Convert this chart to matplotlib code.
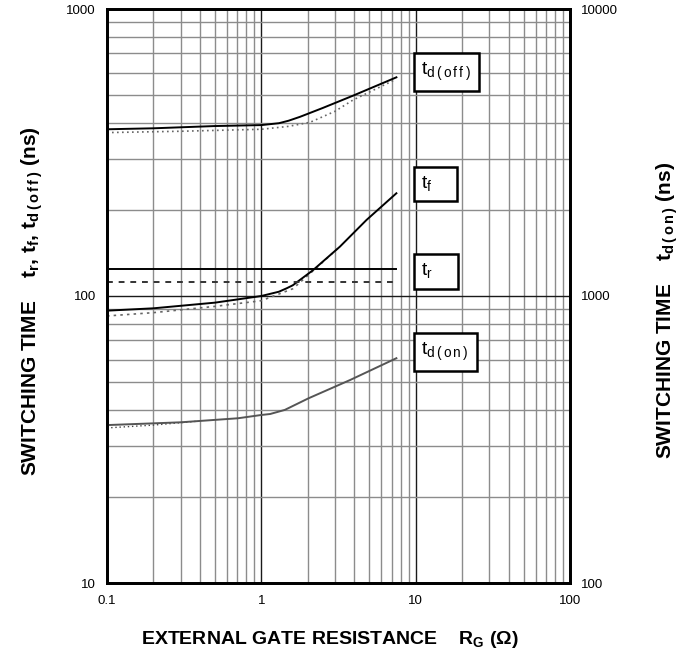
import matplotlib
matplotlib.use("Agg")
import matplotlib.pyplot as plt
from matplotlib.ticker import LogLocator, FixedLocator, NullFormatter

plt.rcParams['font.family'] = ['Liberation Sans', 'DejaVu Sans']
plt.rcParams['mathtext.fontset'] = 'custom'
plt.rcParams['mathtext.rm'] = 'Liberation Sans'

# gate resistance (ohm) / switching times (ns)
rg_doff = [0.1, 0.2, 0.5, 1.0, 1.3, 1.5, 1.78, 2.5, 3.93, 7.5]
td_off = [381, 384, 391, 394, 400, 408, 421, 452, 499, 578]
rg_doff_dot = [0.1, 0.3, 1.0, 1.5, 2.07, 3.0, 3.93, 7.3]
td_off_dot = [371, 375, 381, 390, 403, 440, 482, 566]

rg_f = [0.1, 0.2, 0.5, 1.0, 1.3, 1.46, 1.6, 2.16, 3.23, 4.8, 7.5]
tf = [88.9, 90.6, 94.8, 100, 103.5, 106.4, 109, 123, 148.6, 184, 228]
rg_f_dot = [0.1, 0.2, 0.5, 1.0, 1.6, 2.3, 3.2]
tf_dot = [85.2, 87.5, 92, 96.3, 106, 126, 148]

rg_r = [0.1, 7.5]
tr = [124, 124]
rg_r_dash = [0.1, 7.1]
tr_dash = [112.2, 112.2]

# t_d(on) is read on the right-hand axis
rg_don = [0.1, 0.2, 0.3, 0.707, 1.0, 1.14, 1.42, 2.02, 3.77, 7.5]
td_on = [355, 360, 363, 375, 385, 388, 401, 440, 510, 607]
rg_don_dot = [0.1, 0.2, 0.38]
td_on_dot = [347, 355, 366]

x_ticks = [0.1, 1, 10, 100]
x_ticklabels = ["0.1", "1", "10", "100"]
yl_ticks = [10, 100, 1000]
yl_ticklabels = ["10", "100", "1000"]
yr_ticks = [100, 1000, 10000]
yr_ticklabels = ["100", "1000", "10000"]

# label boxes: (text, x, y in left-axis units)
box_labels = [
    (r"t$_{\mathregular{d\,(\,o\,f\,f\,)}}$", 10.9, 603),
    (r"t$_{\mathregular{f}}$    ", 10.9, 245.7),
    (r"t$_{\mathregular{r}}$    ", 10.9, 122.1),
    (r"t$_{\mathregular{d\,(\,o\,n\,)}}$", 10.9, 64.0),
]

fig = plt.figure(figsize=(6.96, 6.57), dpi=100)
ax = fig.add_axes([107 / 696, 1 - 583 / 657, 463 / 696, 574 / 657])
ax.set_xscale('log')
ax.set_yscale('log')
ax.set_xlim(0.1, 100)
ax.set_ylim(10, 1000)

ax2 = ax.twinx()
ax2.set_yscale('log')
ax2.set_ylim(100, 10000)

# grid
ax.xaxis.set_minor_locator(LogLocator(base=10, subs=range(2, 10)))
ax.yaxis.set_minor_locator(LogLocator(base=10, subs=range(2, 10)))
ax.xaxis.set_minor_formatter(NullFormatter())
ax.yaxis.set_minor_formatter(NullFormatter())
ax.grid(which='minor', color='#8c8c8c', lw=1.0)
ax.grid(which='major', color='#1a1a1a', lw=1.0)
ax.set_axisbelow(True)

ax.xaxis.set_major_locator(FixedLocator(x_ticks))
ax.set_xticklabels(x_ticklabels)
ax.yaxis.set_major_locator(FixedLocator(yl_ticks))
ax.set_yticklabels(yl_ticklabels)
ax2.yaxis.set_major_locator(FixedLocator(yr_ticks))
ax2.set_yticklabels(yr_ticklabels)
ax2.yaxis.set_minor_locator(FixedLocator([]))

ax.tick_params(which='both', length=0, labelsize=9.5)
ax.tick_params(axis='x', pad=9)
ax.tick_params(axis='y', pad=8)
ax2.tick_params(which='both', length=0, labelsize=9.5, pad=8)

for a in (ax, ax2):
    for s in a.spines.values():
        s.set_linewidth(2.0)
        s.set_color('black')

# curves
ax.plot(rg_doff_dot, td_off_dot, color='#666666', lw=1.2, ls=(0, (1, 2)))
ax.plot(rg_doff, td_off, color='black', lw=1.4)
ax.plot(rg_f_dot, tf_dot, color='#666666', lw=1.2, ls=(0, (1.5, 2.5)))
ax.plot(rg_f, tf, color='black', lw=1.4)
ax.plot(rg_r_dash, tr_dash, color='#333333', lw=1.4, ls=(0, (3, 3)))
ax.plot(rg_r, tr, color='black', lw=1.4)
ax2.plot(rg_don_dot, td_on_dot, color='#444444', lw=1.0, ls=(0, (1, 2)))
ax2.plot(rg_don, td_on, color='#555555', lw=1.4)

for txt, xv, yv in box_labels:
    ax2.text(xv, yv * 10, txt, fontsize=14, ha='left', va='center',
             bbox=dict(boxstyle='square,pad=0.4', fc='white', ec='black', lw=1.8),
             zorder=5)

fig.text(0.474, 0.026, r"EXTERNAL GATE RESISTANCE    R$_{\mathregular{G}}$ ($\mathregular{\Omega}$)",
         fontsize=14, fontweight='bold', ha='center', va='center')
fig.text(0.046, 0.542, r"SWITCHING TIME    t$_{\mathregular{r}}$, t$_{\mathregular{f}}$, t$_{\mathregular{d\,(\,o\,f\,f\,)}}$ (ns)",
         fontsize=15, fontweight='bold', ha='center', va='center', rotation=90)
fig.text(0.958, 0.528, r"SWITCHING TIME    t$_{\mathregular{d\,(\,o\,n\,)}}$ (ns)",
         fontsize=15, fontweight='bold', ha='center', va='center', rotation=90)

fig.savefig("out.png", dpi=100)
